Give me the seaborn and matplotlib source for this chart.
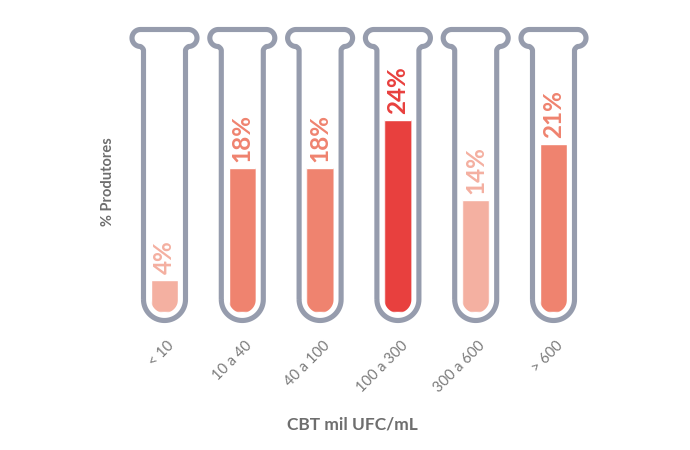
import numpy as np
import matplotlib
matplotlib.use("Agg")
import matplotlib.pyplot as plt
import matplotlib.transforms as mtransforms
from matplotlib.path import Path
from matplotlib.patches import PathPatch
import seaborn as sns

# --- data ---
categories = ["< 10", "10 a 40", "40 a 100", "100 a 300", "300 a 600", "> 600"]
values = [4, 18, 18, 24, 14, 21]
bar_colors = ["#F4B0A1", "#EF836F", "#EF836F", "#E8403E", "#F4B0A1", "#EF836F"]

tube_gray = "#969CAD"
text_gray = "#6E6E6E"

sns.set_style("white")
plt.rcParams["font.family"] = ["Lato", "DejaVu Sans"]

fig = plt.figure(figsize=(6.9, 4.5), dpi=100)
W, H = 690, 450
# axes: x categories -0.5..5.5 span 466.8 px, y: 8 px per percent
ax_left, ax_right = 125.6, 592.4
ax_top, ax_bot = 20, 336      # image pixel rows
ax = fig.add_axes([ax_left / W, 1 - ax_bot / H, (ax_right - ax_left) / W, (ax_bot - ax_top) / H])
base_row = 312

sns.barplot(x=categories, y=values, hue=categories, palette=bar_colors, legend=False,
            width=0.35, saturation=1, ax=ax, zorder=2)
ax.set_xlim(-0.5, 5.5)
ax.set_ylim(-(ax_bot - base_row) / 8, (base_row - ax_top) / 8)
sns.despine(ax=ax, left=True, bottom=True)
ax.set_yticks([])
ax.set_xlabel("")
ax.set_ylabel("")


def arc(cx, cy, r, a0, a1, n=30):
    t = np.radians(np.linspace(a0, a1, n))
    return list(zip(cx + r * np.cos(t), cy + r * np.sin(t)))


ident = mtransforms.IdentityTransform()
yb = ax.transData.transform((0, 0))[1]
w = 21.0
yc = yb + 12.5
yt = yb + 282.5

for i, bar in enumerate(ax.patches):
    cx = ax.transData.transform((i, 0))[0]
    # tube outline (display pixels)
    pts = [(cx - w, yc), (cx - w, yt - 21)]
    pts += [(cx - w - 3 * s * s, yt - 21 + 4 * s) for s in np.linspace(0.2, 1, 5)]
    pts += arc(cx - 24, yt - 8.5, 8.5, 270, 90)
    pts += arc(cx + 24, yt - 8.5, 8.5, 90, -90)
    pts += [(cx + w + 3 * s * s, yt - 21 + 4 * s) for s in np.linspace(1, 0.2, 5)]
    pts += [(cx + w, yt - 21), (cx + w, yc)]
    pts += arc(cx, yc, w, 0, -180, 40)
    tube = PathPatch(Path(pts, closed=False), transform=ident, fill=False,
                     edgecolor=tube_gray, linewidth=3.7, joinstyle="round", zorder=3)
    fig.add_artist(tube)

    # rounded bottom for the liquid
    r = 13.5
    clip_pts = [(cx - r, yt), (cx - r, yc)] + arc(cx, yc, r, 180, 360, 40) + [(cx + r, yt)]
    clip = PathPatch(Path(clip_pts, closed=False), transform=ident, visible=False)
    fig.add_artist(clip)
    bar.set_clip_path(clip)

    ax.text(i, values[i] + 0.7, f"{values[i]}%", rotation=90, ha="center", va="bottom",
            fontsize=17.5, fontweight="bold", color=bar_colors[i], zorder=4)

ax.tick_params(axis="x", length=0, pad=2, labelsize=10.5, labelcolor="#7A7A7A")
offset = mtransforms.ScaledTranslation(2.5 / 100, 0, fig.dpi_scale_trans)
for lab in ax.get_xticklabels():
    lab.set_rotation(45)
    lab.set_ha("right")
    lab.set_va("top")
    lab.set_rotation_mode("anchor")
    lab.set_transform(lab.get_transform() + offset)

fig.text(352 / W, 1 - 425 / H, "CBT mil UFC/mL", ha="center", va="center",
         fontsize=12.5, fontweight="bold", color=text_gray)
fig.text(108 / W, 1 - 182 / H, "% Produtores", ha="center", va="center", rotation=90,
         fontsize=10.5, fontweight="bold", color=text_gray)

fig.savefig("out.png", dpi=100, facecolor="white")
